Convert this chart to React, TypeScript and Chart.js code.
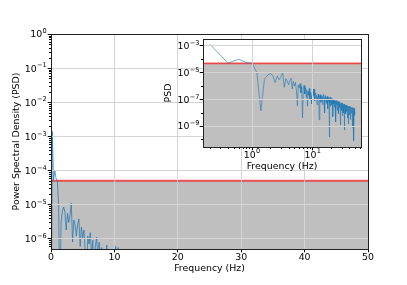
import React, { useEffect, useRef } from 'react';
import { Chart, registerables } from 'chart.js';

Chart.register(...registerables);

// ---------------- data ----------------
const FREQ_STEP = 0.2; // Hz between PSD bins (0 .. 50 Hz)
const PSD_VALUES = [
  1e-12, 1.4e-3, 5.2e-5, 1.0e-4, 5.8e-5, 5.0e-5, 1.0e-5, 1.4e-8, 3.2e-6, 6.5e-6, 8.5e-6,
  6.0e-6, 1.8e-6, 5.5e-6, 3.0e-6, 5.0e-6, 1.1e-5, 8.0e-7, 3.5e-6, 2.5e-6, 1.2e-6,
  2.6e-6, 3.8e-6, 6.0e-7, 2.2e-6, 1.0e-6, 1.8e-6, 4.5e-7, 3.3e-8, 1.2e-6, 7.0e-7,
  1.5e-6, 3.0e-7, 9.0e-7, 4.0e-9, 6.0e-7, 1.1e-6, 2.5e-7, 8.0e-7, 1.5e-7, 5.5e-7,
  3.0e-8, 4.0e-7, 2.0e-7, 6.5e-7, 1.0e-7, 3.5e-7, 1.8e-7, 4.5e-8, 3.0e-7, 1.5e-7,
  6.0e-7, 2.0e-7, 5.5e-7, 8.0e-8, 2.5e-7, 3.0e-7, 1.2e-7, 2.0e-7, 4.0e-8, 1.6e-7,
  9.0e-8, 2.5e-7, 1.3e-7, 3.0e-9, 1.8e-7, 1.0e-7, 2.2e-7, 6.0e-8, 1.4e-7, 8.0e-8,
  2.0e-7, 1.1e-7, 4.0e-8, 1.6e-7, 9.0e-8, 2.4e-7, 7.0e-8, 1.2e-7, 1.0e-8, 1.5e-7,
  8.5e-8, 1.9e-7, 6.0e-8, 1.3e-7, 1.0e-7, 5.0e-8, 1.7e-7, 9.0e-8, 2.0e-8, 1.2e-7,
  7.0e-8, 1.4e-7, 9.0e-8, 1.1e-7, 1.5e-10, 5.5e-8, 1.5e-7, 8.0e-8, 3.0e-8, 1.0e-7,
  6.0e-8, 1.2e-7, 8.0e-8, 4.0e-8, 1.1e-7, 7.0e-8, 9.5e-8, 5.0e-9, 8.5e-8, 6.0e-8,
  1.0e-7, 4.5e-8, 7.5e-8, 2.5e-8, 9.0e-8, 6.5e-8, 3.5e-8, 8.0e-8, 5.0e-8, 7.0e-8,
  2.0e-9, 6.0e-8, 8.5e-8, 4.0e-8, 6.5e-8, 3.0e-8, 7.5e-8, 5.0e-8, 1.5e-8, 6.0e-8,
  4.5e-8, 7.0e-8, 3.5e-8, 5.5e-8, 8.0e-9, 6.5e-8, 4.0e-8, 2.5e-8, 5.5e-8, 3.5e-8,
  6.0e-8, 3.0e-8, 4.5e-8, 1.2e-9, 5.0e-8, 3.5e-8, 2.0e-8, 5.5e-8, 4.0e-8, 3.0e-8,
  4.5e-8, 1.5e-8, 5.0e-8, 3.5e-8, 2.5e-8, 4.0e-8, 6.0e-9, 4.5e-8, 3.0e-8, 3.8e-8,
  2.0e-8, 4.2e-8, 3.2e-8, 1.0e-8, 4.0e-8, 2.8e-8, 3.6e-8, 5.0e-10, 3.0e-8, 4.4e-8,
  2.4e-8, 3.4e-8, 1.5e-8, 3.8e-8, 2.6e-8, 3.0e-8, 8.0e-9, 3.6e-8, 2.2e-8, 2.9e-8,
  3.5e-8, 1.2e-8, 2.7e-8, 3.2e-8, 2.0e-8, 4.0e-9, 3.0e-8, 2.5e-8, 1.8e-8, 3.3e-8,
  2.3e-8, 2.8e-8, 1.0e-8, 3.1e-8, 2.1e-8, 2.6e-8, 1.5e-9, 2.9e-8, 2.0e-8, 2.4e-8,
  1.6e-8, 3.0e-8, 2.2e-8, 7.0e-9, 2.7e-8, 1.9e-8, 2.5e-8, 1.3e-8, 2.8e-8, 2.0e-8,
  3.0e-9, 2.4e-8, 1.8e-8, 2.6e-8, 1.4e-8, 2.2e-8, 1.1e-8, 2.5e-8, 1.7e-8, 2.1e-8,
  9.0e-9, 2.3e-8, 1.6e-8, 2.0e-8, 8.0e-10, 1.9e-8, 2.4e-8, 1.2e-8, 2.0e-8, 1.5e-8,
  2.2e-8, 1.0e-8, 1.8e-8, 2.3e-8, 5.0e-9, 1.7e-8, 2.1e-8, 1.3e-8, 1.9e-8, 8.0e-11,
  1.6e-8, 2.2e-8, 1.1e-8, 1.8e-8, 1.5e-8, 2.0e-8, 6.0e-9, 1.7e-8, 1.2e-8, 8.0e-9,
];
const THRESHOLD = 5e-5;

const MAIN_X_RANGE = [0, 50];
const MAIN_Y_RANGE = [5e-7, 1];
const MAIN_X_TICKS = [0, 10, 20, 30, 40, 50];
const MAIN_Y_TICKS = [1e-6, 1e-5, 1e-4, 1e-3, 1e-2, 1e-1, 1];

const INSET_X_RANGE = [0.155, 62.7];
const INSET_Y_RANGE = [2.7e-11, 3.3e-3];
const INSET_X_TICKS = [1, 10];
const INSET_Y_TICKS = [1e-9, 1e-7, 1e-5, 1e-3];
const INSET_Y_MINOR = [1e-10, 1e-8, 1e-6, 1e-4];

const X_LABEL = 'Frequency (Hz)';
const Y_LABEL = 'Power Spectral Density (PSD)';
const INSET_Y_LABEL = 'PSD';

// ---------------- style ----------------
const FAMILY = 'DejaVu Sans';
const FONT_SIZE = 9.4;
const SUP_SIZE = 6.6;
const FONT = { family: FAMILY, size: FONT_SIZE };
const GRID_COLOR = '#d4d4d4';
const LINE_COLOR = 'rgba(31,119,180,0.78)';
const RED = 'rgba(240,30,30,0.75)';
const FILL = 'rgba(128,128,128,0.5)';

function logMinors(min: number, max: number): number[] {
  const out: number[] = [];
  for (let k = Math.floor(Math.log10(min)); k <= Math.ceil(Math.log10(max)); k++) {
    for (let m = 2; m <= 9; m++) {
      const v = m * Math.pow(10, k);
      if (v > min && v < max) out.push(v);
    }
  }
  return out;
}

// draws "10" with a raised exponent, like matplotlib mathtext
function drawPow10(ctx: CanvasRenderingContext2D, v: number, x: number, baseline: number, align: 'right' | 'center') {
  const e = Math.round(Math.log10(v));
  const expText = e < 0 ? '\u2212' + Math.abs(e) : String(e);
  ctx.font = `${FONT_SIZE}px "${FAMILY}"`;
  const wBase = ctx.measureText('10').width;
  ctx.font = `${SUP_SIZE}px "${FAMILY}"`;
  const wSup = ctx.measureText(expText).width;
  const total = wBase + wSup + 0.3;
  const x0 = align === 'right' ? x - total : x - total / 2;
  ctx.fillStyle = '#000';
  ctx.textAlign = 'left';
  ctx.textBaseline = 'alphabetic';
  ctx.font = `${FONT_SIZE}px "${FAMILY}"`;
  ctx.fillText('10', x0, baseline);
  ctx.font = `${SUP_SIZE}px "${FAMILY}"`;
  ctx.fillText(expText, x0 + wBase + 0.3, baseline - 4.2);
}

function framePlugin(opts: {
  whiteBg?: boolean;
  minorY?: number[];
  minorX?: number[];
  yPowTicks?: number[];
  yGap?: number;
  xPowTicks?: number[];
  xBaseline?: number;
}) {
  return {
    id: 'frame',
    beforeDraw(chart: any) {
      if (!opts.whiteBg) return;
      const { left, top, right, bottom } = chart.chartArea;
      const ctx = chart.ctx;
      ctx.save();
      ctx.fillStyle = '#ffffff';
      ctx.fillRect(left, top, right - left, bottom - top);
      ctx.restore();
    },
    afterDraw(chart: any) {
      const { left, top, right, bottom } = chart.chartArea;
      const ctx = chart.ctx;
      ctx.save();
      ctx.strokeStyle = '#000';
      ctx.lineWidth = 1;
      ctx.beginPath();
      (opts.minorY || []).forEach((v) => {
        const y = Math.round(chart.scales.y.getPixelForValue(v)) + 0.5;
        ctx.moveTo(left, y);
        ctx.lineTo(left - 2, y);
      });
      (opts.minorX || []).forEach((v) => {
        const x = Math.round(chart.scales.x.getPixelForValue(v)) + 0.5;
        ctx.moveTo(x, bottom);
        ctx.lineTo(x, bottom + 2);
      });
      ctx.stroke();
      ctx.strokeStyle = '#222';
      ctx.strokeRect(left + 0.5, top + 0.5, right - left, bottom - top);
      (opts.yPowTicks || []).forEach((v) => {
        const y = chart.scales.y.getPixelForValue(v);
        drawPow10(ctx, v, left - (opts.yGap || 4), y + 3.4, 'right');
      });
      (opts.xPowTicks || []).forEach((v) => {
        const x = chart.scales.x.getPixelForValue(v);
        drawPow10(ctx, v, x, bottom + (opts.xBaseline || 10.5), 'center');
      });
      ctx.restore();
    },
  };
}

function axisCommon(extra: any) {
  return {
    grid: {
      color: GRID_COLOR,
      lineWidth: 1,
      z: 1,
      drawTicks: true,
      tickLength: 3.3,
      tickColor: '#000',
      tickWidth: 1,
    },
    border: { display: false },
    ...extra,
  };
}

export default function App() {
  const mainRef = useRef<HTMLCanvasElement | null>(null);
  const insetRef = useRef<HTMLCanvasElement | null>(null);

  useEffect(() => {
    const points = PSD_VALUES.map((v, i) => ({ x: i * FREQ_STEP, y: v }));
    const insetPoints = points.slice(1);

    const mainThr = [
      { x: MAIN_X_RANGE[0], y: THRESHOLD },
      { x: MAIN_X_RANGE[1], y: THRESHOLD },
    ];
    const insetThr = [
      { x: INSET_X_RANGE[0], y: THRESHOLD },
      { x: INSET_X_RANGE[1], y: THRESHOLD },
    ];

    const mainChart = new Chart(mainRef.current as HTMLCanvasElement, {
      type: 'line',
      data: {
        datasets: [
          { data: points, borderColor: LINE_COLOR, borderWidth: 0.95, pointRadius: 0, fill: false, order: 0 },
          { data: mainThr, borderColor: RED, borderWidth: 1.8, pointRadius: 0, fill: false, order: 1 },
          { data: mainThr, borderWidth: 0, borderColor: 'rgba(0,0,0,0)', backgroundColor: FILL, pointRadius: 0, fill: 'start', order: 2 },
        ] as any,
      },
      options: {
        responsive: false,
        animation: false,
        devicePixelRatio: 1,
        parsing: false as any,
        normalized: true,
        layout: { padding: { top: 34, right: 39, left: 0, bottom: 0 } },
        plugins: { legend: { display: false }, tooltip: { enabled: false } },
        scales: {
          x: axisCommon({
            type: 'linear',
            min: MAIN_X_RANGE[0],
            max: MAIN_X_RANGE[1],
            afterBuildTicks: (s: any) => { s.ticks = MAIN_X_TICKS.map((v) => ({ value: v })); },
            afterFit: (s: any) => { s.height = 36; },
            ticks: { font: FONT, color: '#000', padding: 0, maxRotation: 0, autoSkip: false, callback: (v: any) => String(v) },
            title: { display: true, text: X_LABEL, font: FONT, color: '#000', padding: { top: 0, bottom: 10.4 } },
          }),
          y: axisCommon({
            type: 'logarithmic',
            min: MAIN_Y_RANGE[0],
            max: MAIN_Y_RANGE[1],
            afterBuildTicks: (s: any) => { s.ticks = MAIN_Y_TICKS.map((v) => ({ value: v })); },
            afterFit: (s: any) => { s.width = 51; },
            ticks: { display: false },
            title: { display: true, text: Y_LABEL, font: FONT, color: '#000', padding: { top: 11.4, bottom: 0 } },
          }),
        },
      } as any,
      plugins: [framePlugin({
        minorY: logMinors(MAIN_Y_RANGE[0], MAIN_Y_RANGE[1]),
        yPowTicks: MAIN_Y_TICKS,
        yGap: 4.3,
      })],
    });

    const insetChart = new Chart(insetRef.current as HTMLCanvasElement, {
      type: 'line',
      data: {
        datasets: [
          { data: insetPoints, borderColor: LINE_COLOR, borderWidth: 0.8, pointRadius: 0, fill: false, order: 0 },
          { data: insetThr, borderColor: RED, borderWidth: 1.8, pointRadius: 0, fill: false, order: 1 },
          { data: insetThr, borderWidth: 0, borderColor: 'rgba(0,0,0,0)', backgroundColor: FILL, pointRadius: 0, fill: 'start', order: 2 },
        ] as any,
      },
      options: {
        responsive: false,
        animation: false,
        devicePixelRatio: 1,
        parsing: false as any,
        normalized: true,
        layout: { padding: { top: 14, right: 4, left: 0, bottom: 0 } },
        plugins: { legend: { display: false }, tooltip: { enabled: false } },
        scales: {
          x: axisCommon({
            type: 'logarithmic',
            min: INSET_X_RANGE[0],
            max: INSET_X_RANGE[1],
            afterBuildTicks: (s: any) => { s.ticks = INSET_X_TICKS.map((v) => ({ value: v })); },
            afterFit: (s: any) => { s.height = 38; },
            ticks: { display: false },
            title: { display: true, text: X_LABEL, font: FONT, color: '#000', padding: { top: 0, bottom: 12.7 } },
          }),
          y: axisCommon({
            type: 'logarithmic',
            min: INSET_Y_RANGE[0],
            max: INSET_Y_RANGE[1],
            afterBuildTicks: (s: any) => { s.ticks = INSET_Y_TICKS.map((v) => ({ value: v })); },
            afterFit: (s: any) => { s.width = 53; },
            ticks: { display: false },
            title: { display: true, text: INSET_Y_LABEL, font: FONT, color: '#000', padding: { top: 13.4, bottom: 0 } },
          }),
        },
      } as any,
      plugins: [
        framePlugin({
          whiteBg: true,
          minorX: logMinors(INSET_X_RANGE[0], INSET_X_RANGE[1]),
          minorY: INSET_Y_MINOR,
          yPowTicks: INSET_Y_TICKS,
          yGap: 3.6,
          xPowTicks: INSET_X_TICKS,
          xBaseline: 10.5,
        }),
      ],
    });

    return () => {
      mainChart.destroy();
      insetChart.destroy();
    };
  }, []);

  return (
    <div style={{ position: 'fixed', left: 0, top: 0, width: 407, height: 285, background: '#fff' }}>
      <canvas ref={mainRef} width={407} height={285} style={{ position: 'absolute', left: 0, top: 0 }} />
      <canvas ref={insetRef} width={215} height={160} style={{ position: 'absolute', left: 150, top: 25 }} />
    </div>
  );
}
